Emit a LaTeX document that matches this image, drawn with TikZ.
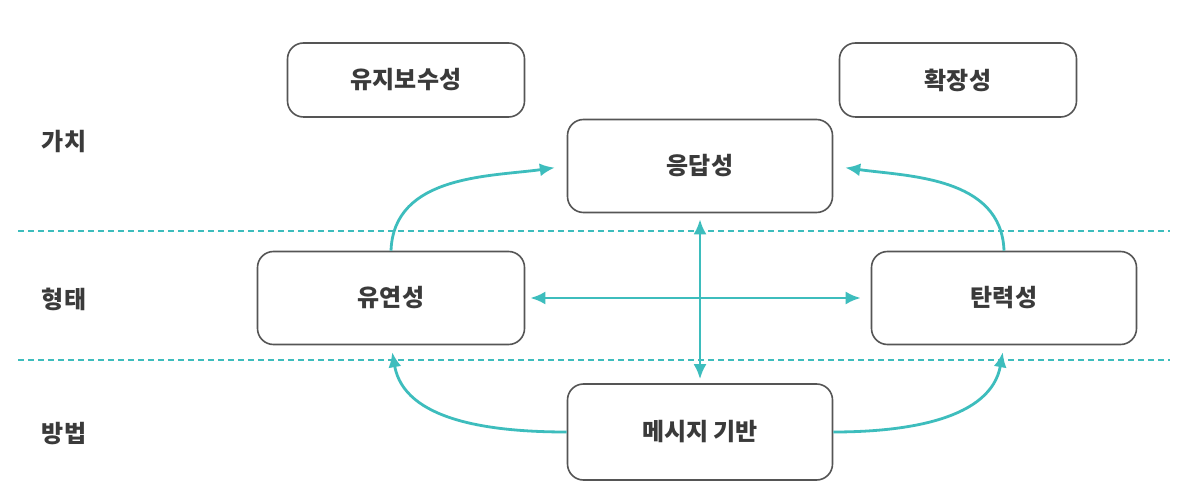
\documentclass[tikz,border=0pt]{standalone}
\usepackage{fontspec}
\setmainfont{Noto Sans CJK KR}
\usetikzlibrary{arrows.meta}
\definecolor{teal1}{HTML}{3DBDBD}
\definecolor{boxgray}{HTML}{555555}
\definecolor{txtgray}{HTML}{3A3A3A}
\begin{document}
\begin{tikzpicture}[x=0.5pt,y=-0.5pt,
  box/.style={draw=boxgray,line width=0.8pt,rounded corners=8pt,fill=white,
    font=\fontsize{12}{14}\selectfont\bfseries,text=txtgray,inner sep=0pt},
  lbl/.style={font=\fontsize{12}{14}\selectfont\bfseries,text=txtgray},
  tip/.style={Latex[length=7.5pt,width=6.5pt]},
  conn/.style={draw=teal1,line width=1.4pt,-{Latex[length=7.5pt,width=6.5pt]}},
  dconn/.style={draw=teal1,line width=1.4pt,{Latex[length=7.5pt,width=6.5pt]}-{Latex[length=7.5pt,width=6.5pt]}},
  sep/.style={draw=teal1,line width=0.7pt,dash pattern=on 3pt off 2pt}]
\useasboundingbox (0,0) rectangle (1192,496);
\fill[white] (0,0) rectangle (1192,496);
% separators
\coordinate (s1a) at (18,231); \coordinate (s1b) at (1170,231);
\coordinate (s2a) at (18,360); \coordinate (s2b) at (1170,360);
\draw[sep] (s1a) -- (s1b);
\draw[sep] (s2a) -- (s2b);
% row labels
\node[lbl] (l1) at (64,141) {가치};
\node[lbl] (l2) at (64,299) {형태};
\node[lbl] (l3) at (64,434) {방법};
% boxes
\node[box,minimum width=118.5pt,minimum height=37pt] (ms) at (406,80) {유지보수성};
\node[box,minimum width=118.5pt,minimum height=37pt] (ex) at (958,80) {확장성};
\node[box,minimum width=132.5pt,minimum height=46.5pt] (ep) at (700,166) {응답성};
\node[box,minimum width=133.5pt,minimum height=46.5pt] (yl) at (391,298) {유연성};
\node[box,minimum width=132.5pt,minimum height=46.5pt] (tl) at (1004,298) {탄력성};
\node[box,minimum width=132.5pt,minimum height=48pt] (mg) at (700,432) {메시지 기반};
% connectors
\draw[dconn,shorten <=3pt,shorten >=2pt] (ep.south) -- (mg.north);
\draw[dconn,shorten <=2.5pt,shorten >=5pt] (yl.east) -- (tl.west);
\draw[conn,shorten >=6pt] (yl.north) to[out=88,in=188] (ep.west);
\draw[conn,shorten >=6pt] (tl.north) to[out=92,in=-8] (ep.east);
\draw[conn,shorten >=3.5pt] (mg.west) to[out=180,in=-80] (yl.south);
\draw[conn,shorten >=3.5pt] (mg.east) to[out=0,in=-100] (tl.south);
\end{tikzpicture}
\end{document}
